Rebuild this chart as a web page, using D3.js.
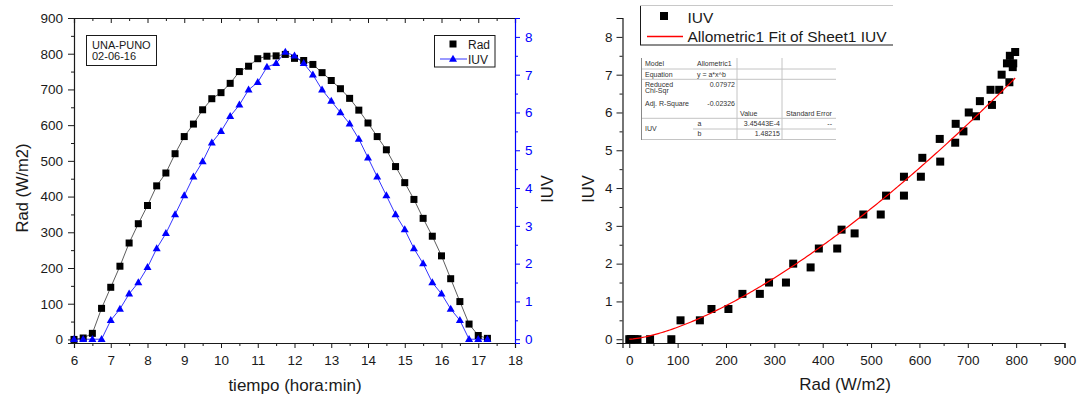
<!DOCTYPE html>
<html>
<head>
<meta charset="utf-8">
<script src="https://cdn.jsdelivr.net/npm/d3@7"></script>
<style>
  body { margin: 0; background: #fff; }
  svg text { font-family: "Liberation Sans", Arial, sans-serif; }
</style>
</head>
<body>
<svg id="chart" width="1078" height="399"></svg>
<script>
// ---- Data: solar radiation and UV index, UNA-PUNO, 02-06-16 ----
const hours = [6, 6.25, 6.5, 6.75, 7, 7.25, 7.5, 7.75, 8, 8.25, 8.5, 8.75,
  9, 9.25, 9.5, 9.75, 10, 10.25, 10.5, 10.75, 11, 11.25, 11.5, 11.75,
  12, 12.25, 12.5, 12.75, 13, 13.25, 13.5, 13.75, 14, 14.25, 14.5, 14.75,
  15, 15.25, 15.5, 15.75, 16, 16.25, 16.5, 16.75, 17, 17.25];
const rad = [0, 4, 17, 87, 146, 205, 270, 324, 375, 430, 466, 520,
  568, 603, 643, 674, 691, 717, 750, 765, 786, 793, 794, 798,
  787, 781, 770, 747, 725, 702, 675, 642, 606, 568, 531, 484,
  439, 392, 339, 289, 234, 170, 106, 43, 11, 3];
const iuv = [0, 0, 0, 0, 0.5, 0.8, 1.2, 1.5, 1.9, 2.4, 2.8, 3.3,
  3.8, 4.3, 4.7, 5.2, 5.5, 5.9, 6.2, 6.6, 6.8, 7.2, 7.3, 7.6,
  7.5, 7.3, 7.0, 6.6, 6.3, 6.0, 5.7, 5.3, 4.8, 4.3, 3.8, 3.3,
  2.9, 2.4, 2.0, 1.5, 1.2, 0.8, 0.5, 0, 0, 0];

// Tick values
const hourTicks = [6, 7, 8, 9, 10, 11, 12, 13, 14, 15, 16, 17, 18];
const radTicks = [0, 100, 200, 300, 400, 500, 600, 700, 800, 900];
const iuvTicks = [0, 1, 2, 3, 4, 5, 6, 7, 8];

// Allometric1 fit results (y = a*x^b)
const fitA = 3.45443e-4;
const fitB = 1.48215;
const fitSummary = [["Model", "Allometric1"], ["Equation", "y = a*x^b"]];
const fitStats = [["Reduced", "Chi-Sqr", "0.07972"], ["Adj. R-Square", "", "-0.02326"]];
const fitParams = [["a", "3.45443E-4", "--"], ["b", "1.48215", ""]];

const svg = d3.select("#chart");
const BLUE = "#0000ff";
const INK = "#1a1a1a";

const pts = hours.map((h, i) => ({ h, rad: rad[i], iuv: iuv[i] }));

// Draws an axis with labelled majors and unlabelled minors
function drawAxis(g, maker, scale, majors, minors, opt) {
  const minorAxis = maker(scale).tickValues(minors).tickFormat("").tickSize(opt.minor);
  const majorAxis = maker(scale).tickValues(majors).tickSize(opt.major)
    .tickPadding(opt.pad).tickFormat(opt.labels === false ? "" : d3.format("d"));
  g.append("g").call(minorAxis).call(s => s.select(".domain").remove())
    .selectAll("line").attr("stroke", opt.color).attr("stroke-width", 1);
  const m = g.append("g").call(majorAxis);
  m.select(".domain").attr("stroke", opt.color).attr("stroke-width", 1.2);
  m.selectAll("line").attr("stroke", opt.color).attr("stroke-width", 1);
  m.selectAll("text").attr("fill", opt.text || INK).attr("font-size", 13.5)
    .style("font-family", '"Liberation Sans", Arial, sans-serif');
  return m;
}

function halfSteps(a, b, step) {
  const out = [];
  for (let v = a; v <= b + 1e-9; v += step) out.push(+v.toFixed(3));
  return out;
}

// ================= Left panel: time series =================
const xL = d3.scaleLinear().domain([6, 18]).range([74, 515]);
const yRad = d3.scaleLinear().domain([-10, 900]).range([343, 18]);
const yUV = d3.scaleLinear().domain([-0.1, 8.5]).range([343, 18]);

const left = svg.append("g");

// top frame with inward ticks
drawAxis(left.append("g").attr("transform", "translate(0,18)"), d3.axisTop, xL,
  hourTicks, halfSteps(6.5, 17.5, 1), { major: -5, minor: -3, pad: 3, color: INK, labels: false });
// bottom axis
drawAxis(left.append("g").attr("transform", "translate(0,343)"), d3.axisBottom, xL,
  hourTicks, halfSteps(6.5, 17.5, 1), { major: 5, minor: 3, pad: 7, color: INK });
// left axis (Rad)
drawAxis(left.append("g").attr("transform", "translate(74,0)"), d3.axisLeft, yRad,
  radTicks, halfSteps(50, 850, 100), { major: 6, minor: 3, pad: 5, color: INK });
// right axis (IUV) in blue
drawAxis(left.append("g").attr("transform", "translate(515,0)"), d3.axisRight, yUV,
  iuvTicks, halfSteps(0.5, 8.5, 1), { major: 5, minor: 3, pad: 5, color: BLUE, text: BLUE });

// series lines
left.append("path").datum(pts)
  .attr("d", d3.line().x(d => xL(d.h)).y(d => yRad(d.rad)))
  .attr("fill", "none").attr("stroke", "#333").attr("stroke-width", 0.8);
left.append("path").datum(pts)
  .attr("d", d3.line().x(d => xL(d.h)).y(d => yUV(d.iuv)))
  .attr("fill", "none").attr("stroke", BLUE).attr("stroke-width", 0.8);

const triPath = "M0,-4.3L4,2.7L-4,2.7Z";

// Rad squares
left.append("g").selectAll("rect").data(pts).join("rect")
  .attr("x", d => xL(d.h) - 3.5).attr("y", d => yRad(d.rad) - 3.5)
  .attr("width", 7).attr("height", 7).attr("fill", "#000");
// IUV triangles
left.append("g").selectAll("path").data(pts).join("path")
  .attr("transform", d => `translate(${xL(d.h)},${yUV(d.iuv)})`)
  .attr("d", triPath).attr("fill", BLUE);

// axis titles
left.append("text").attr("transform", "translate(28,188) rotate(-90)")
  .attr("text-anchor", "middle").attr("font-size", 16.5).attr("fill", INK).text("Rad (W/m2)");
left.append("text").attr("transform", "translate(553,189) rotate(-90)")
  .attr("text-anchor", "middle").attr("font-size", 16.5).attr("fill", INK).text("IUV");
left.append("text").attr("x", 295).attr("y", 391)
  .attr("text-anchor", "middle").attr("font-size", 17).attr("fill", INK).text("tiempo (hora:min)");

// site / date box
left.append("rect").attr("x", 86.5).attr("y", 35.5).attr("width", 70).attr("height", 30)
  .attr("fill", "#fff").attr("stroke", INK).attr("stroke-width", 1);
left.append("text").attr("x", 92).attr("y", 48.5).attr("font-size", 11).attr("fill", INK).text("UNA-PUNO");
left.append("text").attr("x", 92).attr("y", 60).attr("font-size", 11).attr("fill", INK).text("02-06-16");

// legend
const lg = left.append("g");
lg.append("rect").attr("x", 434.5).attr("y", 35.5).attr("width", 60.5).attr("height", 31.5)
  .attr("fill", "#fff").attr("stroke", INK).attr("stroke-width", 1);
lg.append("rect").attr("x", 449.5).attr("y", 40.5).attr("width", 7).attr("height", 7).attr("fill", "#000");
lg.append("text").attr("x", 468).attr("y", 48.5).attr("font-size", 12).attr("fill", INK).text("Rad");
lg.append("line").attr("x1", 440).attr("x2", 467).attr("y1", 59).attr("y2", 59)
  .attr("stroke", BLUE).attr("stroke-width", 0.8);
lg.append("path").attr("transform", "translate(453,59)").attr("d", triPath).attr("fill", BLUE);
lg.append("text").attr("x", 468).attr("y", 63.5).attr("font-size", 12).attr("fill", INK).text("IUV");

// ================= Right panel: IUV vs Rad with fit =================
const xR = d3.scaleLinear().domain([-14, 900]).range([622.5, 1064.5]);
const yR = d3.scaleLinear().domain([-0.1, 8.5]).range([343, 18]);
const right = svg.append("g");

drawAxis(right.append("g").attr("transform", "translate(0,343)"), d3.axisBottom, xR,
  radTicks, halfSteps(50, 850, 100), { major: 5, minor: 3, pad: 7, color: INK });
drawAxis(right.append("g").attr("transform", "translate(622.5,0)"), d3.axisLeft, yR,
  iuvTicks, halfSteps(0.5, 8.5, 1), { major: 6, minor: 3, pad: 4, color: INK });

// scatter points
right.append("g").selectAll("rect").data(pts).join("rect")
  .attr("x", d => xR(d.rad) - 4).attr("y", d => yR(d.iuv) - 4)
  .attr("width", 8).attr("height", 8).attr("fill", "#000");

// fitted allometric curve over the observed Rad range
const radMax = d3.max(rad);
const fitPts = d3.range(0, radMax + 0.01, radMax / 200).map(x => [x, fitA * Math.pow(x, fitB)]);
right.append("path").datum(fitPts)
  .attr("d", d3.line().x(d => xR(d[0])).y(d => yR(d[1])))
  .attr("fill", "none").attr("stroke", "#ff0000").attr("stroke-width", 1.2);

// titles
right.append("text").attr("transform", "translate(593.5,189) rotate(-90)")
  .attr("text-anchor", "middle").attr("font-size", 16.5).attr("fill", INK).text("IUV");
right.append("text").attr("x", 845).attr("y", 390)
  .attr("text-anchor", "middle").attr("font-size", 17).attr("fill", INK).text("Rad (W/m2)");

// legend
const lr = right.append("g");
lr.append("rect").attr("x", 640).attr("y", 5.5).attr("width", 253).attr("height", 39.5).attr("fill", "#fff");
lr.append("line").attr("x1", 640.5).attr("x2", 640.5).attr("y1", 5.5).attr("y2", 45).attr("stroke", INK);
lr.append("line").attr("x1", 640).attr("x2", 893).attr("y1", 5.5).attr("y2", 5.5).attr("stroke", "#c8c8c8");
lr.append("line").attr("x1", 640).attr("x2", 893).attr("y1", 45).attr("y2", 45).attr("stroke", INK);
lr.append("rect").attr("x", 660).attr("y", 12).attr("width", 8).attr("height", 8).attr("fill", "#000");
lr.append("text").attr("x", 687.5).attr("y", 22.5).attr("font-size", 15.5).attr("fill", INK).text("IUV");
lr.append("line").attr("x1", 647).attr("x2", 683).attr("y1", 36.5).attr("y2", 36.5)
  .attr("stroke", "#ff0000").attr("stroke-width", 1.3);
lr.append("text").attr("x", 687.5).attr("y", 41.5).attr("font-size", 15.5).attr("fill", INK)
  .text("Allometric1 Fit of Sheet1 IUV");

// fit results table
const tb = right.append("g");
tb.append("rect").attr("x", 641).attr("y", 58).attr("width", 195).attr("height", 82).attr("fill", "#fff");
const grid = "#c4c4c4";
[[641, 836, 69], [641, 836, 79.3], [641, 836, 118.3], [693, 836, 129], [641, 836, 139.5]]
  .forEach(([x1, x2, y]) => tb.append("line").attr("x1", x1).attr("x2", x2)
    .attr("y1", y).attr("y2", y).attr("stroke", grid));
[[737, 58, 139.5], [782, 58, 139.5]]
  .forEach(([x, y1, y2]) => tb.append("line").attr("x1", x).attr("x2", x)
    .attr("y1", y1).attr("y2", y2).attr("stroke", grid));
tb.append("line").attr("x1", 641.5).attr("x2", 641.5).attr("y1", 58).attr("y2", 140).attr("stroke", "#888");

const tFont = 7, tCol = "#333";
const tt = (x, y, s, anchor) => tb.append("text").attr("x", x).attr("y", y)
  .attr("font-size", tFont).attr("fill", tCol).attr("text-anchor", anchor || "start").text(s);
fitSummary.forEach(([k, v], i) => { tt(645, 66 + i * 10.5, k); tt(697, 66 + i * 10.5, v); });
tt(645, 86.5, fitStats[0][0]); tt(645, 92.5, fitStats[0][1]); tt(735, 86.5, fitStats[0][2], "end");
tt(645, 105.5, fitStats[1][0]); tt(735, 105.5, fitStats[1][2], "end");
tt(740, 115.5, "Value"); tt(786, 115.5, "Standard Error");
tt(645, 131, "IUV");
fitParams.forEach(([n, v, e], i) => {
  const y = 126 + i * 10.3;
  tt(697.5, y, n); tt(780, y, v, "end");
  if (e) tt(832, y, e, "end");
});
</script>
</body>
</html>
